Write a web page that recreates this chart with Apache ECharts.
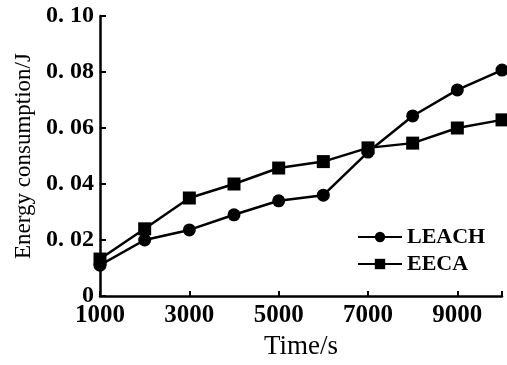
<!DOCTYPE html>
<html><head><meta charset="utf-8">
<script src="https://cdn.jsdelivr.net/npm/echarts@6/dist/echarts.min.js"></script>
<style>html,body{margin:0;padding:0;background:#fff;}#c{width:507px;height:365px;}</style>
</head><body><div id="c"></div>
<script>
const times = [1000,2000,3000,4000,5000,6000,7000,8000,9000,10000];
const leach = [0.011,0.020,0.0236,0.029,0.034,0.036,0.0514,0.0643,0.0736,0.0807];
const eeca  = [0.0132,0.024,0.035,0.040,0.0457,0.048,0.0529,0.0546,0.060,0.0629];
const xTickLabels = ['1000','3000','5000','7000','9000'];
const yTickLabels = ['0','0. 02','0. 04','0. 06','0. 08','0. 10'];
const seriesNames = ['LEACH','EECA'];
const xName = 'Time/s';
const yName = 'Energy consumption/J';

const serif = 'Liberation Serif, Times New Roman, serif';
const chart = echarts.init(document.getElementById('c'));
const pair = (arr) => times.map((t,i)=>[t,arr[i]]);
chart.setOption({
  animation:false,
  backgroundColor:'#fff',
  grid:{left:100,right:5,top:16,bottom:69,containLabel:false,outerBoundsMode:'none'},
  legend:{
    orient:'vertical', left:352, top:221, itemWidth:44, itemHeight:13, itemGap:5,
    textStyle:{fontFamily:serif,fontWeight:'bold',fontSize:22,color:'#000'},
    data:seriesNames
  },
  xAxis:{
    type:'value', min:1000, max:10000, interval:2000,
    name:xName, nameLocation:'middle', nameGap:37,
    nameTextStyle:{fontFamily:serif,fontSize:27,color:'#000'},
    axisLine:{lineStyle:{color:'#000',width:2.5}},
    axisTick:{inside:true,length:5,lineStyle:{color:'#000',width:2}},
    splitLine:{show:false},
    axisLabel:{fontFamily:serif,fontWeight:'bold',fontSize:25,color:'#000',margin:7,
      formatter:(v)=>{const s=String(v);return xTickLabels.includes(s)?s:'';}}
  },
  yAxis:{
    type:'value', min:0, max:0.1, interval:0.02,
    name:yName, nameLocation:'middle', nameGap:64,
    nameTextStyle:{fontFamily:serif,fontSize:23,color:'#000'},
    axisLine:{lineStyle:{color:'#000',width:2.5}},
    axisTick:{inside:true,length:6,lineStyle:{color:'#000',width:2}},
    splitLine:{show:false},
    axisLabel:{fontFamily:serif,fontWeight:'bold',fontSize:24,color:'#000',margin:6,
      formatter:(v)=>yTickLabels[Math.round(v/0.02)]}
  },
  series:[
    {name:seriesNames[0],type:'line',data:pair(leach),symbol:'circle',symbolSize:13,
     lineStyle:{color:'#000',width:2.5},itemStyle:{color:'#000'}},
    {name:seriesNames[1],type:'line',data:pair(eeca),symbol:'rect',symbolSize:13,
     lineStyle:{color:'#000',width:2.5},itemStyle:{color:'#000'}}
  ]
});
</script></body></html>
